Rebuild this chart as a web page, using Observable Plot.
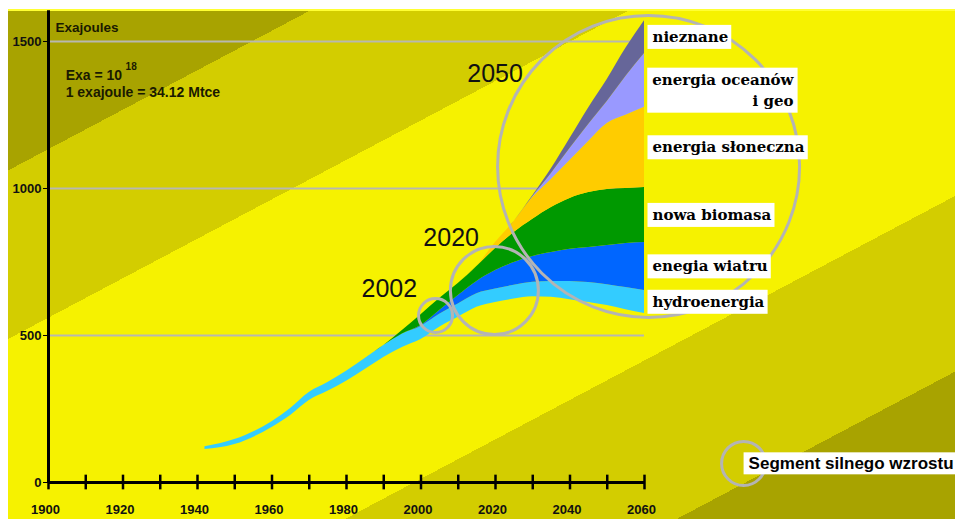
<!DOCTYPE html>
<html>
<head>
<meta charset="utf-8">
<script src="https://cdn.jsdelivr.net/npm/d3@7"></script>
<script src="https://cdn.jsdelivr.net/npm/@observablehq/plot@0.6"></script>
<style>
  html, body { margin: 0; padding: 0; background: #fff; }
  #wrap { position: relative; width: 955px; height: 519px; overflow: hidden; }
  #bg {
    position: absolute; left: 8px; top: 9px; width: 947px; height: 510px;
    box-sizing: border-box; border-top: 2px solid #ffff33;
    background: linear-gradient(152.1deg,
      #a8a300 0%, #a8a300 15.8%,
      #d3cd00 15.8%, #d3cd00 32.5%,
      #f6f200 32.5%, #f6f200 68%,
      #d3cd00 68%, #d3cd00 85.4%,
      #a8a300 85.4%, #a8a300 100%);
  }
  #chart { position: absolute; left: 0; top: 0; }
</style>
</head>
<body>
<div id="wrap"><div id="bg"></div><div id="chart"></div></div>
<script>
// ---- data (EJ per year) ----
const years = [1942,1950,1960,1965,1970,1975,1980,1985,1990,1995,2000,2005,2010,2015,2020,2025,2030,2035,2040,2045,2050,2055,2060];
// invisible base under the coloured layers (conventional energy)
const conventional = [112,129,187,228,279,310,344,384,425,459,486,528,562,596,612,624,632,630,622,612,602,588,575];
const hydro   = [10,17,20,24,27,30,34,38,41,46,45,44,45,46,46,47,49,54,62,68,71,75,78];
const wind    = [0,0,0,0,0,0,0,0,0,0,3,13,29,42,63,77,88,98,109,119,133,150,163];
const biomass = [0,0,0,0,0,0,0,0,0,12,37,41,41,51,75,102,126,153,173,187,191,187,187];
const solar   = [0,0,0,0,0,0,0,0,0,0,0,0,0,0,20,38,74,96,129,174,224,249,273];
const ocean   = [0,0,0,0,0,0,0,0,0,0,0,0,0,0,0,0,3,20,41,58,75,132,183];
const unknown = [0,0,0,0,0,0,0,0,0,0,0,0,0,0,0,0,3,16,34,56,75,96,112];

const seriesNames = ["konwencjonalne","hydroenergia","enegia wiatru","nowa biomasa","energia słoneczna","energia oceanów\ni geo","nieznane"];
const seriesValues = [conventional, hydro, wind, biomass, solar, ocean, unknown];
const seriesColors = ["none","#33ccff","#0066ff","#009900","#ffcc00","#9999ff","#666699"];

const xTickLabels = [1900,1920,1940,1960,1980,2000,2020,2040,2060];
const xTickMarks  = d3.range(1900, 2061, 10);
const yTicks = [0,500,1000,1500];
const gridValues = [500,1000,1500];

// ---- tables built from the arrays ----
const rows = [];
seriesNames.forEach((s, i) => years.forEach((yr, j) => rows.push({year: yr, series: s, value: seriesValues[i][j]})));

const last = years.length - 1;
const cum = d3.cumsum(seriesValues.map(v => v[last]));
const labelRows = seriesNames.map((s, i) => ({name: s, mid: (cum[i] - seriesValues[i][last] / 2)}));
const plainLabels = labelRows.filter((d, i) => i > 0 && i !== 5);
const oceanLabel = [labelRows[5]];

// annotation circles and their captions (in data units)
const circleNotes = [
  {x: 2003.9, y: 568, r: 17},
  {x: 2019.7, y: 653, r: 44},
  {x: 2061.1, y: 1075, r: 151},
  {x: 2086.6, y: 65, r: 22}
];
const yearNotes = [
  {label: "2002", x: 1991.5, y: 658},
  {label: "2020", x: 2008.1, y: 832},
  {label: "2050", x: 2019.9, y: 1389}
];
const segmentNote = [{label: "Segment silnego wzrostu", x: 2086.6, y: 65}];

const sans = "'Liberation Sans', Arial, Helvetica, sans-serif";
const serif = "'DejaVu Serif', 'Liberation Serif', serif";
const axisTop = 1605;

const svg = Plot.plot({
  width: 955, height: 519,
  marginLeft: 48, marginRight: 311, marginTop: 41, marginBottom: 37,
  style: {background: "transparent", overflow: "visible"},
  x: {domain: [1900, 2060], label: null},
  y: {domain: [0, 1500], label: null},
  color: {domain: seriesNames, range: seriesColors},
  marks: [
    Plot.ruleY(gridValues, {x1: 1900, x2: 2060, stroke: "#b8b8b0", strokeWidth: 2}),
    Plot.areaY(rows, {x: "year", y: "value", z: "series", fill: "series", curve: "monotone-x"}),
    ...circleNotes.map(c => Plot.dot([c], {x: "x", y: "y", r: c.r, stroke: "#b4b4b4", strokeWidth: 3, fill: "none"})),
    Plot.ruleX([1900], {y1: 0, y2: axisTop, stroke: "#000", strokeWidth: 3}),
    Plot.ruleY([0], {x1: 1900, x2: 2060, stroke: "#000", strokeWidth: 3}),
    Plot.ruleX(xTickMarks, {y1: -25, y2: 25, stroke: "#000", strokeWidth: 2.5}),
    Plot.axisY({ticks: yTicks, tickSize: 5, tickPadding: 2, strokeWidth: 1, fontSize: 13, fontWeight: "bold", fontFamily: sans, fill: "#111", label: null, tickFormat: "d"}),
    Plot.axisX({ticks: xTickLabels, tickSize: 0, tickPadding: 22, dx: -3, fontSize: 13, fontWeight: "bold", fontFamily: sans, fill: "#111", label: null, tickFormat: "d"}),
    Plot.text(["Exajoules"], {x: 1901.9, y: 1548, text: d => d, textAnchor: "start", fontSize: 13.5, fontWeight: "bold", fontFamily: sans, fill: "#1a1a00"}),
    Plot.text(["Exa = 10", "1 exajoule = 34.12 Mtce"], {x: 1904.6, y: (d, i) => i === 0 ? 1384 : 1327, text: d => d, textAnchor: "start", fontSize: 14, fontWeight: "bold", fontFamily: sans, fill: "#1a1a00"}),
    Plot.text(["18"], {x: 1920.7, y: 1415, text: d => d, textAnchor: "start", fontSize: 10, fontWeight: "bold", fontFamily: sans, fill: "#1a1a00"}),
    Plot.text(yearNotes, {x: "x", y: "y", text: "label", fontSize: 25, fontFamily: sans, fill: "#111"}),
    Plot.text(plainLabels, {x: 2060, y: "mid", text: "name", textAnchor: "start", dx: 8, fontSize: 15, fontWeight: "bold", fontFamily: serif, fill: "#010101"}),
    Plot.text(oceanLabel, {x: 2060, y: "mid", text: "name", textAnchor: "end", dx: 149, dy: 8, lineHeight: 1.4, fontSize: 15, fontWeight: "bold", fontFamily: serif, fill: "#010101"}),
    Plot.text(segmentNote, {x: "x", y: "y", text: "label", textAnchor: "start", dx: 5, fontSize: 17, fontWeight: "bold", fontFamily: sans, fill: "#020202"})
  ]
});
document.getElementById("chart").append(svg);

function boxify(fillKey, padL, padR, padY) {
  svg.querySelectorAll(`g[fill="${fillKey}"] text`).forEach(t => {
    const b = t.getBBox();
    const r = document.createElementNS("http://www.w3.org/2000/svg", "rect");
    r.setAttribute("x", b.x - padL);
    r.setAttribute("y", b.y - padY);
    r.setAttribute("width", b.width + padL + padR);
    r.setAttribute("height", b.height + 2 * padY);
    r.setAttribute("fill", "white");
    r.setAttribute("stroke", "none");
    const tr = t.getAttribute("transform");
    if (tr) r.setAttribute("transform", tr);
    t.parentNode.insertBefore(r, t);
  });
}
boxify("#010101", 5, 3, 3);
boxify("#020202", 5, 5, 1.5);
</script>
</body>
</html>
